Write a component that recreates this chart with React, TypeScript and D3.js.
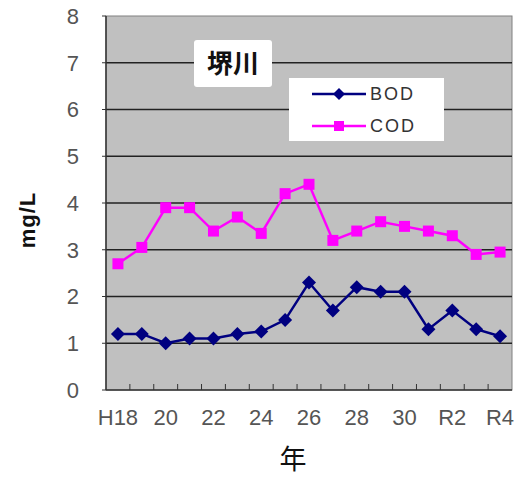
import * as d3 from 'd3';

const W = 516;
const H = 477;
const years = ['H18', 'H19', 'H20', 'H21', 'H22', 'H23', 'H24', 'H25', 'H26', 'H27', 'H28', 'H29', 'H30', 'R1', 'R2', 'R3', 'R4'];
const tickLabels = ['H18', '20', '22', '24', '26', '28', '30', 'R2', 'R4'];
const bod = [1.2, 1.2, 1.0, 1.1, 1.1, 1.2, 1.25, 1.5, 2.3, 1.7, 2.2, 2.1, 2.1, 1.3, 1.7, 1.3, 1.15];
const cod = [2.7, 3.05, 3.9, 3.9, 3.4, 3.7, 3.35, 4.2, 4.4, 3.2, 3.4, 3.6, 3.5, 3.4, 3.3, 2.9, 2.95];
const yTicks = [0, 1, 2, 3, 4, 5, 6, 7, 8];

const m = { l: 106, r: 512, t: 16, b: 390 };
const x = d3.scaleBand<string>().domain(years).range([m.l, m.r]);
const y = d3.scaleLinear([0, 8], [m.b, m.t]);
const cx = (i: number) => (x(years[i]) ?? 0) + x.bandwidth() / 2;
const lineGen = d3.line<number>().x((_, i) => cx(i)).y(d => y(d));
const cjk = '"Noto Sans CJK JP", sans-serif';
const latin = '"Liberation Sans", Arial, sans-serif';

export default function App() {
  const sq = 11;
  const dm = 7;
  return (
    <svg width={W} height={H} style={{ position: 'absolute', left: 0, top: 0 }} fontFamily={latin}>
      <rect width={W} height={H} fill="#fff" />
      <rect x={m.l} y={m.t} width={m.r - m.l} height={m.b - m.t} fill="#c0c0c0" stroke="#808080" strokeWidth={1} />
      {yTicks.slice(1, -1).map(t => (
        <line key={t} x1={m.l} x2={m.r} y1={y(t)} y2={y(t)} stroke="#222" strokeWidth={1.3} />
      ))}
      {/* axes */}
      <line x1={m.l} x2={m.l} y1={m.t} y2={m.b} stroke="#333" strokeWidth={1.5} />
      <line x1={m.l} x2={m.r} y1={m.b} y2={m.b} stroke="#333" strokeWidth={1.5} />
      {yTicks.map(t => (
        <g key={t}>
          <line x1={m.l - 4} x2={m.l} y1={y(t)} y2={y(t)} stroke="#333" strokeWidth={1} />
          <text x={79} y={y(t)} dy="0.36em" textAnchor="end" fontSize={22} fill="#555">{t}</text>
        </g>
      ))}
      {years.slice(1).map(yr => (
        <line key={yr} x1={x(yr)} x2={x(yr)} y1={m.b} y2={m.b - 6} stroke="#333" strokeWidth={1} />
      ))}
      {tickLabels.map((lab, k) => (
        <text key={lab} x={cx(k * 2)} y={417} dy="0.36em" textAnchor="middle" fontSize={22} fill="#555">{lab}</text>
      ))}
      <text transform={`translate(27,220) rotate(-90)`} textAnchor="middle" dy="0.36em" fontSize={22} fontWeight="bold" letterSpacing={1} fill="#111">mg/L</text>
      <text x={293} y={459} dy="0.36em" textAnchor="middle" fontSize={27} fill="#111" fontFamily={cjk}>年</text>

      {/* series */}
      <path d={lineGen(cod) ?? ''} fill="none" stroke="#ff00ff" strokeWidth={2.5} />
      {cod.map((v, i) => (
        <rect key={i} x={cx(i) - sq / 2} y={y(v) - sq / 2} width={sq} height={sq} fill="#ff00ff" />
      ))}
      <path d={lineGen(bod) ?? ''} fill="none" stroke="#000080" strokeWidth={2.5} />
      {bod.map((v, i) => (
        <path key={i} d={`M${cx(i)},${y(v) - dm}L${cx(i) + dm},${y(v)}L${cx(i)},${y(v) + dm}L${cx(i) - dm},${y(v)}Z`} fill="#000080" />
      ))}

      {/* title box */}
      <rect x={194} y={40} width={78} height={47} rx={3} fill="#fff" />
      <text x={233} y={64} dy="0.36em" textAnchor="middle" fontSize={26} fontWeight="bold" fill="#111" fontFamily={cjk}>堺川</text>

      {/* legend */}
      <rect x={289} y={78} width={155} height={63} fill="#fff" />
      <line x1={312} x2={366} y1={94} y2={94} stroke="#000080" strokeWidth={2.5} />
      <path d={`M339,${94 - 6}L345,94L339,${94 + 6}L333,94Z`} fill="#000080" />
      <text x={370} y={94} dy="0.36em" fontSize={18} fill="#333" letterSpacing={2}>BOD</text>
      <line x1={312} x2={366} y1={126} y2={126} stroke="#ff00ff" strokeWidth={2.5} />
      <rect x={334} y={121} width={10} height={10} fill="#ff00ff" />
      <text x={370} y={126} dy="0.36em" fontSize={18} fill="#333" letterSpacing={2}>COD</text>
    </svg>
  );
}
